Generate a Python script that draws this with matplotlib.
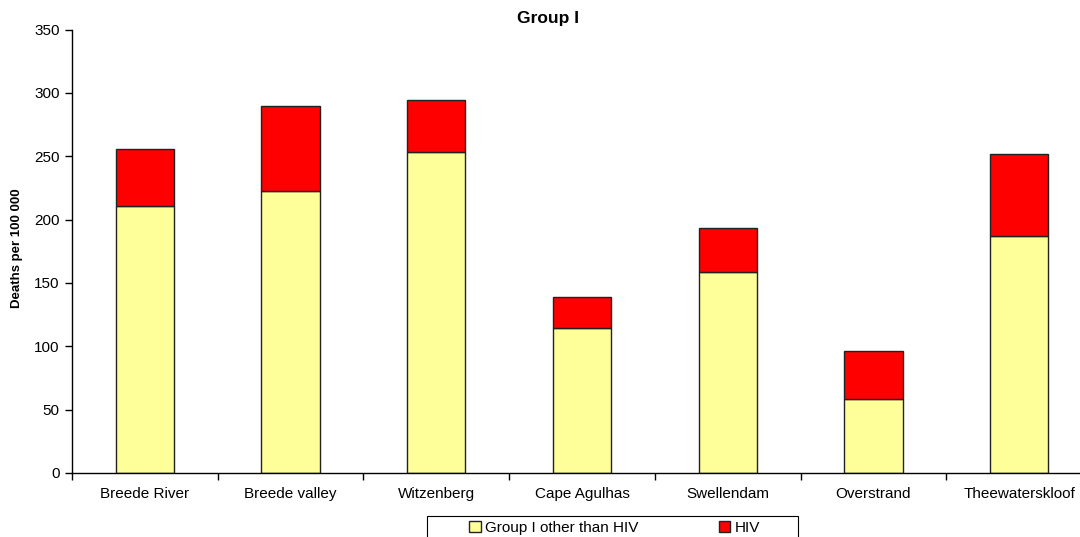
import matplotlib
matplotlib.use("Agg")
import matplotlib.pyplot as plt
from matplotlib.patches import Rectangle
import numpy as np

plt.rcParams['font.family'] = ['Liberation Sans', 'DejaVu Sans']

categories = ["Breede River", "Breede valley", "Witzenberg", "Cape Agulhas",
              "Swellendam", "Overstrand", "Theewaterskloof"]
other_than_hiv = [210.5, 222.5, 253.5, 114.5, 158.5, 58.5, 187.0]
hiv = [45.0, 67.0, 41.0, 24.5, 35.0, 38.0, 64.5]
series_names = ["Group I other than HIV", "HIV"]

W, H = 1080, 537
fig = plt.figure(figsize=(W / 100, H / 100), dpi=100)
ax = fig.add_axes([72 / W, 1 - 473 / H, 1020 / W, (473 - 29.5) / H])

x = np.arange(len(categories))
b1 = ax.bar(x, other_than_hiv, width=0.4, color="#FFFF99", edgecolor="#222222",
            linewidth=1.0, label=series_names[0])
b2 = ax.bar(x, hiv, width=0.4, bottom=other_than_hiv, color="#FF0000",
            edgecolor="#222222", linewidth=1.0, label=series_names[1])

ax.set_xlim(-0.5, len(categories) - 0.5)
ax.set_ylim(0, 350)
ax.set_yticks(np.arange(0, 351, 50))
ax.set_xticks(x)
ax.set_xticklabels(categories, fontsize=11)
ax.set_xticks(np.arange(-0.5, len(categories), 1), minor=True)
ax.tick_params(axis='x', which='major', length=0, pad=10)
ax.tick_params(axis='x', which='minor', length=5, direction='out', width=1)
ax.tick_params(axis='y', length=5, direction='out', width=1, labelsize=11, pad=4)

for side in ("top", "right"):
    ax.spines[side].set_visible(False)
for side in ("left", "bottom"):
    ax.spines[side].set_linewidth(1.0)

# axis title and chart title
fig.text(17 / W, 1 - 248 / H, "Deaths per 100 000", rotation=90,
         ha="center", va="center", fontsize=9.5, fontweight="bold")
fig.text(548 / W, 1 - 23 / H, "Group I", ha="center", va="baseline",
         fontsize=12.5, fontweight="bold")

# legend box at the bottom
fig.patches.append(Rectangle((426.5 / W, -0.02), 371 / W, (537 - 515.5) / H + 0.02,
                             transform=fig.transFigure, facecolor="white",
                             edgecolor="black", linewidth=0.8, zorder=1))
leg = fig.legend(handles=[b1, b2], labels=series_names, ncol=2,
                 loc="center", bbox_to_anchor=(614.5 / W, 1 - 528 / H),
                 frameon=False, fontsize=11, handlelength=0.75, handleheight=0.75,
                 handletextpad=0.25, columnspacing=5.3, borderpad=0.0)
leg.set_zorder(2)

fig.savefig("out.png", dpi=100)
